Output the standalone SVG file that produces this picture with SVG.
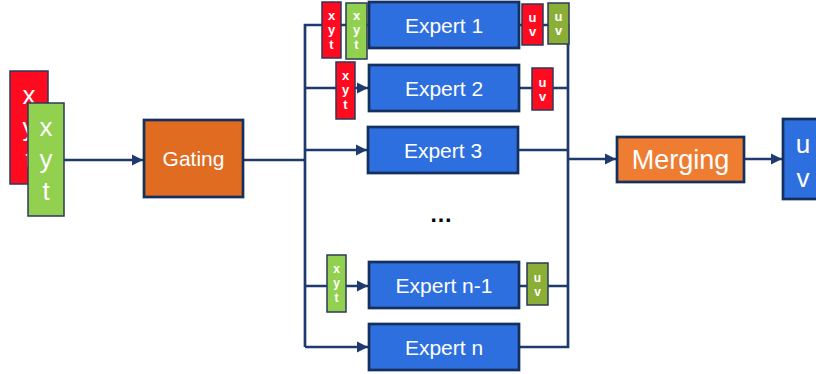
<svg xmlns="http://www.w3.org/2000/svg" width="816" height="374" viewBox="0 0 816 374">
<defs>
<marker id="ah" viewBox="0 0 10 10" refX="10" refY="5" markerWidth="4.2" markerHeight="4.2" markerUnits="strokeWidth" orient="auto">
<path d="M0,0 L10,5 L0,10 z" fill="#1F3A6E"/>
</marker>
<style>
.ln{stroke:#1F3A6E;stroke-width:2.7;fill:none}
.ar{stroke:#1F3A6E;stroke-width:2.7;fill:none;marker-end:url(#ah)}
.exp{fill:#2E6FE0;stroke:#13305E;stroke-width:2.7}
.red{fill:#FF0A1F;stroke:#2B3A5A;stroke-width:1.5}
.grn{fill:#92D050;stroke:#2B3A5A;stroke-width:1.5}
.olv{fill:#8BAE37;stroke:#2B3A5A;stroke-width:1.5}
text{font-family:"Liberation Sans",Arial,sans-serif;fill:#FFFFFF;text-anchor:middle}
.big{font-size:21px}
.sm{font-size:13px;font-weight:bold}
.lg{font-size:26px}
</style>
</defs>
<rect width="816" height="374" fill="#FFFFFF"/>

<g id="connectors">
<line class="ar" x1="64" y1="160" x2="143" y2="160"/>
<line class="ln" x1="243" y1="160" x2="305" y2="160"/>
<polyline class="ln" points="305,347 305,25 369,25"/>
<line class="ar" x1="305" y1="88" x2="368" y2="88"/>
<line class="ar" x1="305" y1="150" x2="367" y2="150"/>
<line class="ar" x1="305" y1="286" x2="368" y2="286"/>
<line class="ar" x1="305" y1="347" x2="368" y2="347"/>
<polyline class="ln" points="519,25 568,25 568,347 519,347"/>
<line class="ln" x1="519" y1="88" x2="568" y2="88"/>
<line class="ln" x1="518" y1="150" x2="568" y2="150"/>
<line class="ln" x1="519" y1="286" x2="568" y2="286"/>
<line class="ar" x1="568" y1="159" x2="616" y2="159"/>
<line class="ar" x1="744" y1="159" x2="782" y2="159"/>
</g>

<g id="input">
<rect class="red" x="10" y="71" width="38" height="113"/>
<text class="lg" x="29" y="104">x</text>
<text class="lg" x="29" y="136">y</text>
<text class="lg" x="29" y="168">t</text>
<rect class="grn" x="28" y="103" width="36" height="113"/>
<text class="lg" x="46" y="136">x</text>
<text class="lg" x="46" y="168">y</text>
<text class="lg" x="46" y="200">t</text>
</g>

<g id="gating">
<rect x="144" y="120" width="99" height="77" fill="#E06C22" stroke="#13305E" stroke-width="2.7"/>
<text class="big" x="193.5" y="166">Gating</text>
</g>

<g id="expert1">
<rect class="exp" x="369" y="2" width="150" height="46"/>
<text class="big" x="444" y="33">Expert 1</text>
</g>
<g id="expert1-in-red">
<rect class="red" x="322" y="2" width="19" height="56"/>
<text class="sm" x="331.5" y="20">x</text>
<text class="sm" x="331.5" y="34">y</text>
<text class="sm" x="331.5" y="49">t</text>
</g>
<g id="expert1-in-green">
<rect class="grn" x="346" y="3" width="21" height="56"/>
<text class="sm" x="356.5" y="20">x</text>
<text class="sm" x="356.5" y="34">y</text>
<text class="sm" x="356.5" y="49">t</text>
</g>
<g id="expert1-out-red">
<rect class="red" x="522" y="4" width="21" height="41"/>
<text class="sm" x="532.5" y="22">u</text>
<text class="sm" x="532.5" y="36">v</text>
</g>
<g id="expert1-out-green">
<rect class="olv" x="548" y="3" width="21" height="41"/>
<text class="sm" x="558.5" y="21">u</text>
<text class="sm" x="558.5" y="35">v</text>
</g>

<g id="expert2">
<rect class="exp" x="369" y="65" width="150" height="46"/>
<text class="big" x="444" y="96">Expert 2</text>
</g>
<g id="expert2-in-red">
<rect class="red" x="336" y="62" width="19" height="57"/>
<text class="sm" x="345.5" y="80">x</text>
<text class="sm" x="345.5" y="94">y</text>
<text class="sm" x="345.5" y="109">t</text>
</g>
<g id="expert2-out-red">
<rect class="red" x="532" y="68" width="21" height="42"/>
<text class="sm" x="542.5" y="87">u</text>
<text class="sm" x="542.5" y="101">v</text>
</g>

<g id="expert3">
<rect class="exp" x="368" y="127" width="150" height="46"/>
<text class="big" x="443" y="158">Expert 3</text>
</g>

<g id="ellipsis">
<text x="441" y="222" style="font-size:23px;font-weight:bold;fill:#000000">…</text>
</g>

<g id="expertn-1">
<rect class="exp" x="369" y="262" width="150" height="46"/>
<text class="big" x="444" y="293">Expert n-1</text>
</g>
<g id="expertn-1-in-green">
<rect class="grn" x="327" y="255" width="19" height="57"/>
<text class="sm" x="336.5" y="273" style="font-size:12px">x</text>
<text class="sm" x="336.5" y="287" style="font-size:12px">y</text>
<text class="sm" x="336.5" y="302" style="font-size:12px">t</text>
</g>
<g id="expertn-1-out-green">
<rect class="olv" x="527" y="263" width="21" height="42"/>
<text class="sm" x="537.5" y="282" style="font-size:12px">u</text>
<text class="sm" x="537.5" y="296" style="font-size:12px">v</text>
</g>

<g id="expertn">
<rect class="exp" x="369" y="324" width="150" height="46"/>
<text class="big" x="444" y="355">Expert n</text>
</g>

<g id="merging">
<rect x="617" y="137" width="127" height="45" fill="#EE7D31" stroke="#13305E" stroke-width="2.7"/>
<text x="680.5" y="169" style="font-size:27px">Merging</text>
</g>

<g id="output">
<rect x="783" y="119" width="40" height="80" fill="#2E6FE0" stroke="#13305E" stroke-width="2.7"/>
<text class="lg" x="803" y="153">u</text>
<text class="lg" x="803" y="187">v</text>
</g>
</svg>
